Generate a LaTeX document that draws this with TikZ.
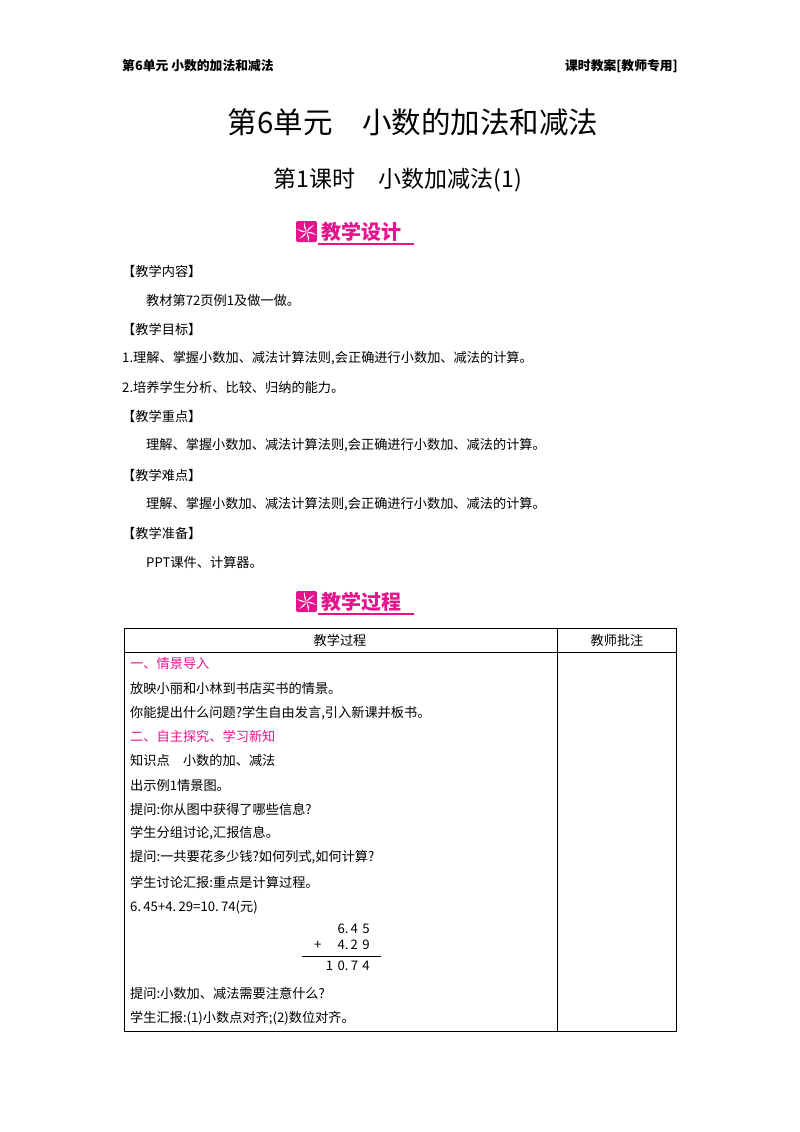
\documentclass[tikz,border=0pt]{standalone}
\usepackage{fontspec}
\setmainfont{Noto Sans CJK SC}
\definecolor{mag}{RGB}{230,20,140}
\begin{document}
\begin{tikzpicture}[x=1pt,y=-1pt,
  t/.style={anchor=west,inner sep=0pt,font=\fontsize{13.2}{14}\selectfont},
  tm/.style={t,text=mag},
  badge/.style={anchor=west,inner sep=0pt,text=mag,font=\fontsize{20}{21}\selectfont\bfseries}]
\useasboundingbox (0,0) rectangle (800,1132);
\node[t,font=\fontsize{12.8}{14}\selectfont\bfseries] (h1) at (122,66) {第6单元\ 小数的加法和减法};
\node[t,anchor=east,font=\fontsize{12.8}{14}\selectfont\bfseries] (h2) at (678,66) {课时教案[教师专用]};
\node[inner sep=0pt,font=\fontsize{29.5}{31}\selectfont] (ti) at (413,122) {第6单元\quad 小数的加法和减法};
\node[inner sep=0pt,font=\fontsize{23}{25}\selectfont] (st) at (398,180) {第1课时\quad 小数加减法(1)};
% badges
\foreach \y/\txt/\n in {232/教学设计/b1,602/教学过程/b2}{
  \fill[mag,rounded corners=2pt] (296,\y-11) rectangle (317,\y+10);
  \foreach \a in {0,60,...,300}
    \fill[white,rotate around={\a:(306.5,\y)}] (306.5,\y) .. controls (308,\y-4) and (311,\y-6) .. (314,\y-7) .. controls (311,\y-4) and (309,\y-2) .. (306.5,\y);
  \node[badge] (\n) at (321,\y) {\txt};
  \draw[mag,line width=1.2pt] (318,\y+12) -- (414,\y+12);
}
\node[t] (a1) at (122,271) {【教学内容】};
\node[t] (a2) at (146,300) {教材第72页例1及做一做。};
\node[t] (a3) at (122,329) {【教学目标】};
\node[t] (a4) at (122,358) {1.理解、掌握小数加、减法计算法则,会正确进行小数加、减法的计算。};
\node[t] (a5) at (122,387) {2.培养学生分析、比较、归纳的能力。};
\node[t] (a6) at (122,416) {【教学重点】};
\node[t] (a7) at (146,445) {理解、掌握小数加、减法计算法则,会正确进行小数加、减法的计算。};
\node[t] (a8) at (122,475) {【教学难点】};
\node[t] (a9) at (146,504) {理解、掌握小数加、减法计算法则,会正确进行小数加、减法的计算。};
\node[t] (a10) at (122,533) {【教学准备】};
\node[t] (a11) at (146,562) {PPT课件、计算器。};
% table
\draw[line width=0.8pt] (124,628) rectangle (676,1031);
\draw (124,652) -- (676,652);
\draw (557,628) -- (557,1031);
\node[t,anchor=center] (th1) at (340,640) {教学过程};
\node[t,anchor=center] (th2) at (617,640) {教师批注};
\node[tm] (r1) at (130,663) {一、情景导入};
\node[t] (r2) at (130,688) {放映小丽和小林到书店买书的情景。};
\node[t] (r3) at (130,713) {你能提出什么问题?学生自由发言,引入新课并板书。};
\node[tm] (r4) at (130,736) {二、自主探究、学习新知};
\node[t] (r5) at (130,760) {知识点\quad 小数的加、减法};
\node[t] (r6) at (130,785) {出示例1情景图。};
\node[t] (r7) at (130,809) {提问:你从图中获得了哪些信息?};
\node[t] (r8) at (130,833) {学生分组讨论,汇报信息。};
\node[t] (r9) at (130,857) {提问:一共要花多少钱?如何列式,如何计算?};
\node[t] (r10) at (130,882) {学生讨论汇报:重点是计算过程。};
\node[t] (r11) at (130,907) {6.\,45+4.\,29=10.\,74(元)};
\node[t,anchor=east] (c1) at (370,929) {6.\,4\,\,5};
\node[t,anchor=east] (c2) at (370,945) {+\quad\ 4.\,2\,\,9};
\draw (302,956) -- (381,956);
\node[t,anchor=east] (c3) at (370,966) {1\,\,0.\,7\,\,4};
\node[t] (r12) at (130,993) {提问:小数加、减法需要注意什么?};
\node[t] (r13) at (130,1018) {学生汇报:(1)小数点对齐;(2)数位对齐。};
\end{tikzpicture}
\end{document}
